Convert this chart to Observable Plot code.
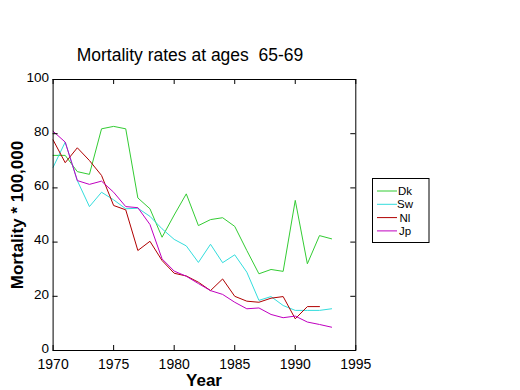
<!DOCTYPE html>
<html>
<head>
<meta charset="utf-8">
<script src="https://cdn.jsdelivr.net/npm/d3@7"></script>
<script src="https://cdn.jsdelivr.net/npm/@observablehq/plot@0.6"></script>
<style>
  html, body { margin: 0; padding: 0; background: #fff; }
  #chart { width: 520px; height: 390px; }
  svg text { font-family: "Liberation Sans", Arial, sans-serif; }
</style>
</head>
<body>
<div id="chart"></div>
<script>
const years = [1970,1971,1972,1973,1974,1975,1976,1977,1978,1979,1980,1981,1982,1983,1984,1985,1986,1987,1988,1989,1990,1991,1992,1993];
const dk = [72,72,66,65,81.8,82.7,81.8,56.3,52.3,41.8,50,57.8,46.1,48.3,49.0,45.8,36.9,28.3,29.9,29.2,55.4,32,42.4,41.2];
const sw = [67.6,76.9,62.7,53.1,58.4,55.6,52.3,52.5,49.5,44.9,41,38.6,32.5,39.2,32.4,35.3,28.9,18.5,19.9,16.6,14.8,14.8,14.8,15.4];
const nl = [77.7,69.3,74.8,70.1,64.6,53.5,51.9,36.9,40.3,33.2,28.5,27.5,25.2,22.1,26.4,20.0,18.2,17.8,19.3,19.9,11.7,16.2,16.2,null];
const jp = [80.9,76.9,62.7,61.3,62.5,58.4,53.1,52.7,46.5,33.8,29.3,27.4,24.7,22.1,20.7,17.8,15.4,15.7,13.3,12.1,12.7,10.5,9.6,8.6];
const countries = ["Dk","Sw","Nl","Jp"];
const colors = ["#33cc33","#33dddd","#b00000","#c000c0"];
const xTicks = [1970,1975,1980,1985,1990,1995];
const yTicks = [0,20,40,60,80,100];
const title = "Mortality rates at ages\u00a0\u00a065-69";
const xLabel = "Year";
const yLabel = "Mortality * 100,000";

const series = [dk, sw, nl, jp];
const data = [];
countries.forEach((c, i) => {
  years.forEach((yr, j) => {
    if (series[i][j] != null) data.push({country: c, year: yr, value: series[i][j]});
  });
});

const W = 520, H = 390;
const mL = 52.6, mR = 164.7, mT = 79, mB = 40;
const frameH = H - mT - mB, frameW = W - mL - mR;
const tk = 5;

const plot = Plot.plot({
  width: W, height: H,
  marginLeft: mL, marginRight: mR, marginTop: mT, marginBottom: mB,
  style: {fontFamily: "'Liberation Sans', Arial, sans-serif", fontSize: "14px", background: "white", overflow: "visible"},
  x: {domain: [1970, 1995]},
  y: {domain: [0, 100]},
  color: {domain: countries, range: colors},
  marks: [
    Plot.line(data, {x: "year", y: "value", z: "country", stroke: "country", strokeWidth: 1}),
    Plot.frame({stroke: "black", strokeWidth: 1}),
    Plot.tickX(xTicks, {x: d => d, insetTop: frameH - tk, stroke: "black"}),
    Plot.tickX(xTicks, {x: d => d, insetBottom: frameH - tk, stroke: "black"}),
    Plot.tickY(yTicks, {y: d => d, insetRight: frameW - tk, stroke: "black"}),
    Plot.tickY(yTicks, {y: d => d, insetLeft: frameW - tk, stroke: "black"}),
    Plot.axisX({ticks: xTicks, tickSize: 0, tickPadding: 8.5, tickFormat: d => String(d), label: null, fontSize: 14, fill: "black"}),
    Plot.axisY({ticks: yTicks, tickSize: 0, tickPadding: 4, dy: -2, tickFormat: d => String(d), label: null, fontSize: 13.5, fill: "black"})
  ]
});
document.getElementById("chart").appendChild(plot);

const svg = d3.select(plot);
svg.append("text").attr("x", 190).attr("y", 61).attr("text-anchor", "middle")
  .attr("font-size", 17.5).attr("fill", "black").text(title);
svg.append("text").attr("x", 204).attr("y", 386).attr("text-anchor", "middle")
  .attr("font-size", 17).attr("font-weight", "bold").attr("fill", "black").text(xLabel);
svg.append("text").attr("transform", "translate(23,215) rotate(-90)").attr("text-anchor", "middle")
  .attr("font-size", 17).attr("font-weight", "bold").attr("fill", "black").text(yLabel);

const lg = svg.append("g");
lg.append("rect").attr("x", 372.5).attr("y", 178.5).attr("width", 56.5).attr("height", 64)
  .attr("fill", "white").attr("stroke", "black");
countries.forEach((c, i) => {
  const yy = 191 + i * 13.3;
  lg.append("line").attr("x1", 377).attr("x2", 397).attr("y1", yy).attr("y2", yy)
    .attr("stroke", colors[i]).attr("stroke-width", 1);
  lg.append("text").attr("x", 405).attr("y", yy + 4).attr("font-size", 11.5).attr("fill", "black").text(c);
});
</script>
</body>
</html>
